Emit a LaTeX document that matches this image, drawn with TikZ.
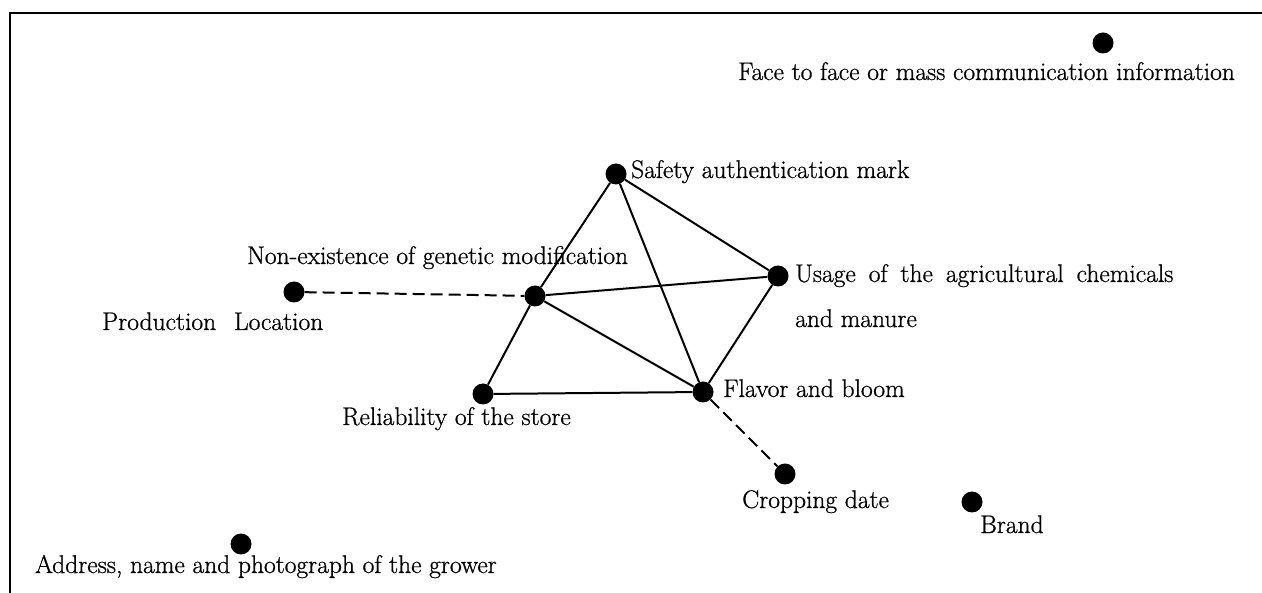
\documentclass[tikz,border=0pt]{standalone}
\usepackage{fontspec}
\setmainfont{Latin Modern Roman}[FakeBold=0.8]
\usepackage{tikz}
\usetikzlibrary{positioning}

\begin{document}
\begin{tikzpicture}[x=1pt,y=-1pt,
	dot/.style={circle,fill=black,inner sep=0pt,minimum size=21pt},
	lab/.style={inner sep=0pt,font=\fontsize{25.5}{30}\selectfont},
	link/.style={line width=2pt},
	dlink/.style={line width=2pt,dash pattern=on 12pt off 6pt}]
			\useasboundingbox (0,0) rectangle (1262,593);
			\draw[line width=1.8pt] (10,593) -- (10,13) -- (1262,13);
			\node[dot] (face) at (1103,43) {};
			\node[dot] (safety) at (616,174) {};
			\node[dot] (usage) at (778,276) {};
			\node[dot] (gm) at (535,296) {};
			\node[dot] (prod) at (294,292) {};
			\node[dot] (rel) at (483,394) {};
			\node[dot] (flav) at (703,392) {};
			\node[dot] (crop) at (785,474) {};
			\node[dot] (brand) at (972,502) {};
			\node[dot] (addr) at (241,544) {};
			\node[lab,anchor=base west] (facel) at (738,80) {Face to face or mass communication information};
			\node[lab,anchor=base west] (safetyl) at (631,178) {Safety authentication mark};
			\node[lab,anchor=base west,align=left] (usagel) at (795,327) {\spaceskip=13pt Usage of the agricultural chemicals\\[15pt]and manure};
			\node[lab,anchor=base west] (gml) at (247,264) {Non-existence of genetic modification};
			\node[lab,anchor=base west] (prodl) at (102,330) {Production\hspace{0.7em}Location};
			\node[lab,anchor=base west] (rell) at (342,425) {Reliability of the store};
			\node[lab,anchor=base west] (flavl) at (723,397) {Flavor and bloom};
			\node[lab,anchor=base west] (cropl) at (742,508) {Cropping date};
			\node[lab,anchor=base west] (brandl) at (980,533) {Brand};
			\node[lab,anchor=base west] (addrl) at (35,573) {Address, name and photograph of the grower};
			\draw[link] (safety)--(gm);
			\draw[link] (safety)--(usage);
			\draw[link] (safety)--(flav);
			\draw[link] (gm)--(usage);
			\draw[link] (gm)--(flav);
			\draw[link] (gm)--(rel);
			\draw[link] (rel)--(flav);
			\draw[link] (usage)--(flav);
			\draw[dlink] (prod)--(gm);
			\draw[dlink] (flav)--(crop);
\end{tikzpicture}
\end{document}
